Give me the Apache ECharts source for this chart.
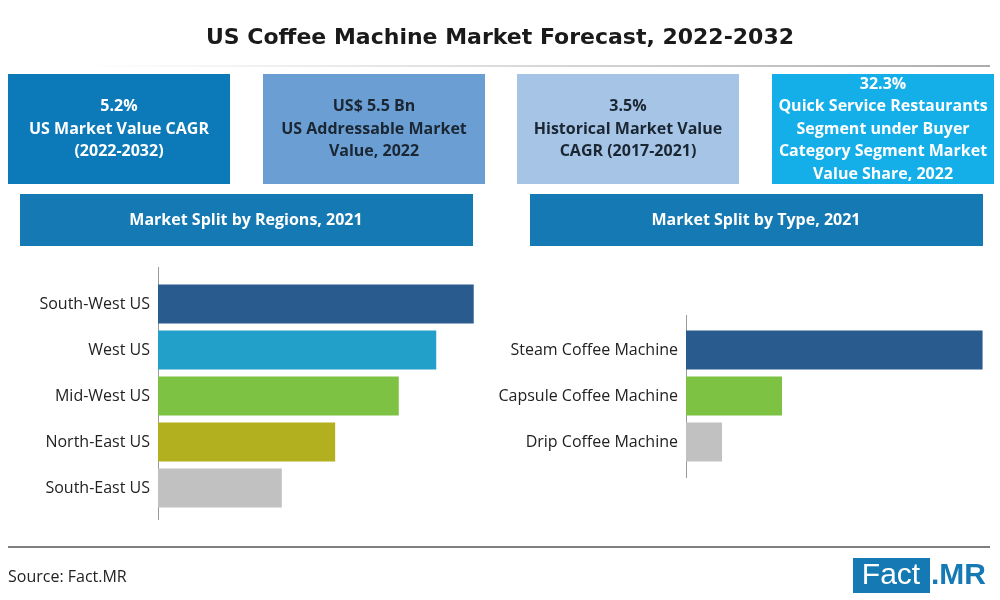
<!DOCTYPE html>
<html>
<head>
<meta charset="utf-8">
<script src="https://cdn.jsdelivr.net/npm/echarts@6/dist/echarts.min.js"></script>
<style>
  html, body { margin: 0; padding: 0; background: #fff; }
  #chart { width: 1000px; height: 600px; }
</style>
</head>
<body>
<div id="chart"></div>
<script>
// values (share of market, %)
const regionNames = ["South-West US", "West US", "Mid-West US", "North-East US", "South-East US"];
const regionShares = [27.8, 24.5, 21.2, 15.6, 10.9];
const typeNames = ["Steam Coffee Machine", "Capsule Coffee Machine", "Drip Coffee Machine"];
const typeShares = [69.2, 22.4, 8.4];

const statLines = [
    ["5.2%", "US Market Value CAGR", "(2022-2032)"],
    ["US$ 5.5 Bn", "US Addressable Market", "Value, 2022"],
    ["3.5%", "Historical Market Value", "CAGR (2017-2021)"],
    ["32.3%", "Quick Service Restaurants", "Segment under Buyer", "Category Segment Market", "Value Share, 2022"],
];
const panelTitles = ["Market Split by Regions, 2021", "Market Split by Type, 2021"];

const regionColors = ["#2a5b8e", "#22a0c9", "#7dc242", "#b3b01f", "#c1c1c1"];
const typeColors = ["#2a5b8e", "#7dc242", "#c1c1c1"];
const boxColors = ["#0c79b9", "#6b9fd4", "#a6c4e6", "#14aee9"];
const boxTextColors = ["#ffffff", "#1b2633", "#1b2633", "#ffffff"];
const FONT = "'Open Sans', sans-serif";
const HEAD_BLUE = "#1579b3";

const chart = echarts.init(document.getElementById("chart"));

const boxX = [8, 263, 517, 772];
const graphics = [];

boxX.forEach((x, i) => {
    graphics.push({
        type: "rect",
        shape: { x: x, y: 74, width: 222, height: 110 },
        style: { fill: boxColors[i] },
    });
    graphics.push({
        type: "text",
        x: x + 111,
        y: 129,
        style: {
            text: statLines[i].join("\n"),
            fill: boxTextColors[i],
            font: "bold 16px " + FONT,
            align: "center",
            verticalAlign: "middle",
            lineHeight: 22.5,
        },
    });
});

[20, 530].forEach((x, i) => {
    graphics.push({
        type: "rect",
        shape: { x: x, y: 194, width: 453, height: 52 },
        style: { fill: HEAD_BLUE },
    });
    graphics.push({
        type: "text",
        x: x + 226,
        y: 220,
        style: {
            text: panelTitles[i],
            fill: "#fff",
            font: "bold 16px " + FONT,
            align: "center",
            verticalAlign: "middle",
        },
    });
});

// axis lines (run a bit past the bars, like the original)
graphics.push({ type: "line", shape: { x1: 158.5, y1: 267, x2: 158.5, y2: 520 }, style: { stroke: "#9a9a9a", lineWidth: 1 } });
graphics.push({ type: "line", shape: { x1: 686.5, y1: 315, x2: 686.5, y2: 478 }, style: { stroke: "#9a9a9a", lineWidth: 1 } });

// title underline, footer rule
graphics.push({
    type: "line",
    shape: { x1: 80, y1: 66, x2: 990, y2: 66 },
    style: {
        stroke: new echarts.graphic.LinearGradient(0, 0, 1, 0, [
            { offset: 0, color: "rgba(200,200,200,0)" },
            { offset: 0.5, color: "rgba(190,190,190,0.6)" },
            { offset: 1, color: "rgba(150,150,150,0.8)" },
        ]),
        lineWidth: 2,
    },
});
graphics.push({ type: "line", shape: { x1: 8, y1: 547, x2: 990, y2: 547 }, style: { stroke: "#555", lineWidth: 1.5 } });

graphics.push({
    type: "text", x: 8, y: 577,
    style: { text: "Source: Fact.MR", fill: "#222", font: "16px " + FONT, verticalAlign: "middle" },
});

// Fact.MR logo
graphics.push({ type: "rect", shape: { x: 853, y: 558, width: 77, height: 35 }, style: { fill: HEAD_BLUE } });
graphics.push({
    type: "text", x: 891, y: 576,
    style: { text: "Fact", fill: "#fff", font: "30px 'Liberation Sans Narrow', 'Liberation Sans', sans-serif", align: "center", verticalAlign: "middle" },
});
graphics.push({
    type: "text", x: 931, y: 576,
    style: { text: ".MR", fill: HEAD_BLUE, font: "bold 30px 'Liberation Sans Narrow', 'Liberation Sans', sans-serif", verticalAlign: "middle" },
});

const catLabel = { color: "#222", fontSize: 16, fontFamily: FONT, margin: 8 };

chart.setOption({
    animation: false,
    title: {
        text: "US Coffee Machine Market Forecast, 2022-2032",
        left: "center",
        top: 22,
        textStyle: { fontSize: 22, fontWeight: "bold", color: "#1a1a1a", fontFamily: "'DejaVu Sans', sans-serif" },
    },
    grid: [
        { left: 158, top: 281, width: 318, height: 230 },
        { left: 686, top: 327, width: 300, height: 138 },
    ],
    xAxis: [
        { gridIndex: 0, type: "value", min: 0, max: 28, show: false },
        { gridIndex: 1, type: "value", min: 0, max: 70, show: false },
    ],
    yAxis: [
        {
            gridIndex: 0, type: "category", data: regionNames, inverse: true,
            axisLine: { show: false }, axisTick: { show: false }, axisLabel: catLabel,
        },
        {
            gridIndex: 1, type: "category", data: typeNames, inverse: true,
            axisLine: { show: false }, axisTick: { show: false }, axisLabel: catLabel,
        },
    ],
    series: [
        {
            type: "bar", xAxisIndex: 0, yAxisIndex: 0, barWidth: 39,
            data: regionShares.map((v, i) => ({ value: v, itemStyle: { color: regionColors[i] } })),
        },
        {
            type: "bar", xAxisIndex: 1, yAxisIndex: 1, barWidth: 39,
            data: typeShares.map((v, i) => ({ value: v, itemStyle: { color: typeColors[i] } })),
        },
    ],
    graphic: graphics,
});
</script>
</body>
</html>
